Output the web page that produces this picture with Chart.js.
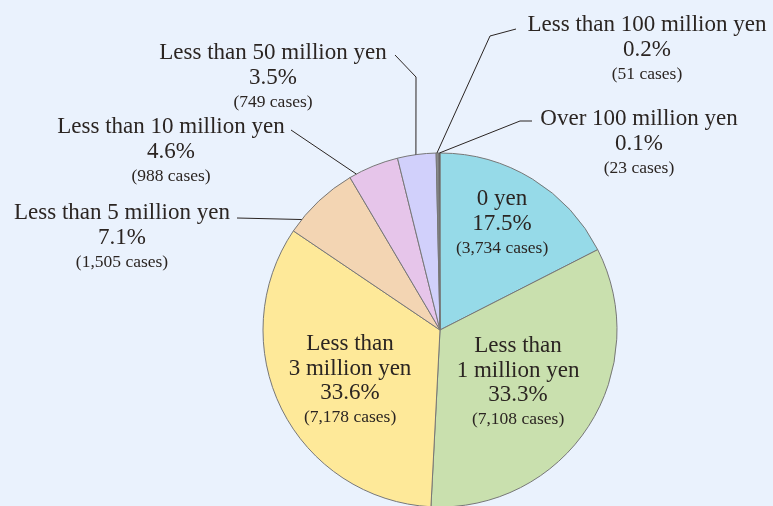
<!DOCTYPE html>
<html>
<head>
<meta charset="utf-8">
<script src="https://cdn.jsdelivr.net/npm/chart.js@4/dist/chart.umd.min.js"></script>
<style>
  html, body { margin: 0; padding: 0; background: #eaf2fd; overflow: hidden; }
  canvas { display: block; }
</style>
</head>
<body>
<canvas id="grafico" width="773" height="506"></canvas>
<script>
// Datos del gráfico
const categorias = ['0 yen', 'Less than 1 million yen', 'Less than 3 million yen', 'Less than 5 million yen',
  'Less than 10 million yen', 'Less than 50 million yen', 'Less than 100 million yen', 'Over 100 million yen'];
const casos = [3734, 7108, 7178, 1505, 988, 749, 51, 23];
const porcentajes = ['17.5%', '33.3%', '33.6%', '7.1%', '4.6%', '3.5%', '0.2%', '0.1%'];
const textoCasos = ['(3,734 cases)', '(7,108 cases)', '(7,178 cases)', '(1,505 cases)',
  '(988 cases)', '(749 cases)', '(51 cases)', '(23 cases)'];
// Nombre partido en líneas tal como aparece en la imagen
const lineasNombre = [['0 yen'], ['Less than', '1 million yen'], ['Less than', '3 million yen'],
  ['Less than 5 million yen'], ['Less than 10 million yen'], ['Less than 50 million yen'],
  ['Less than 100 million yen'], ['Over 100 million yen']];
const colores = ['#96dae8', '#c9e0ae', '#fee999', '#f3d5b3', '#e6c5ea', '#d1d0fb', '#8a8a8a', '#4d4342'];

// Colocación de las etiquetas (dentro: polar; fuera: texto + líneas guía)
const colocacion = [
  { dentro: true, giro: -1.2, r: 0.695 },
  { dentro: true, giro: 1.2, r: 0.533 },
  { dentro: true, giro: -3, r: 0.584 },
  { x: 122, y: 213, guia: [[237, 218]], f: 0.18 },
  { x: 171, y: 127, guia: [[291, 130]], f: 0.14 },
  { x: 273, y: 53, guia: [[395, 55], [416, 77]], f: 0.48 },
  { x: 647, y: 25, guia: [[516, 29], [490, 36]], f: 0.3 },
  { x: 639, y: 119, guia: [[532, 121], [520, 121]], f: 0.5 }
];

const ALTO_LINEA = 24.5;

const etiquetasPlugin = {
  id: 'etiquetas',
  afterDatasetsDraw(chart) {
    const ctx = chart.ctx;
    const arcos = chart.getDatasetMeta(0).data;
    ctx.save();
    arcos.forEach((arco, i) => {
      const p = arco.getProps(['x', 'y', 'startAngle', 'endAngle', 'outerRadius'], true);
      const c = colocacion[i];
      const lineas = lineasNombre[i].concat([porcentajes[i], textoCasos[i]]);
      let tx, ty;
      if (c.dentro) {
        const ang = (p.startAngle + p.endAngle) / 2 + c.giro * Math.PI / 180;
        tx = p.x + Math.cos(ang) * p.outerRadius * c.r;
        ty = p.y + Math.sin(ang) * p.outerRadius * c.r - (lineas.length - 1) * ALTO_LINEA / 2;
      } else {
        tx = c.x;
        ty = c.y;
        // Línea guía hasta el borde del sector
        const ang = p.startAngle + (p.endAngle - p.startAngle) * c.f;
        ctx.beginPath();
        ctx.strokeStyle = '#2a2422';
        ctx.lineWidth = 1;
        ctx.moveTo(c.guia[0][0], c.guia[0][1]);
        for (let k = 1; k < c.guia.length; k++) ctx.lineTo(c.guia[k][0], c.guia[k][1]);
        ctx.lineTo(p.x + Math.cos(ang) * p.outerRadius, p.y + Math.sin(ang) * p.outerRadius);
        ctx.stroke();
      }
      ctx.fillStyle = '#2b2522';
      ctx.textAlign = 'center';
      ctx.textBaseline = 'middle';
      lineas.forEach((t, k) => {
        const esCasos = k === lineas.length - 1;
        ctx.font = (esCasos ? '17.5px' : '23px') + ' "Liberation Serif", "DejaVu Serif", serif';
        ctx.fillText(t, tx, ty + k * ALTO_LINEA);
      });
    });
    ctx.restore();
  }
};

const ctx = document.getElementById('grafico').getContext('2d');
const grafico = new Chart(ctx, {
  type: 'pie',
  data: {
    labels: categorias,
    datasets: [{
      data: casos,
      backgroundColor: colores,
      borderColor: '#777777',
      borderWidth: 1
    }]
  },
  options: {
    responsive: false,
    animation: false,
    radius: 177,
    layout: { padding: { top: 154, bottom: 0, left: 264, right: 157 } },
    plugins: {
      legend: { display: false },
      tooltip: { enabled: false }
    }
  },
  plugins: [etiquetasPlugin]
});
</script>
</body>
</html>
